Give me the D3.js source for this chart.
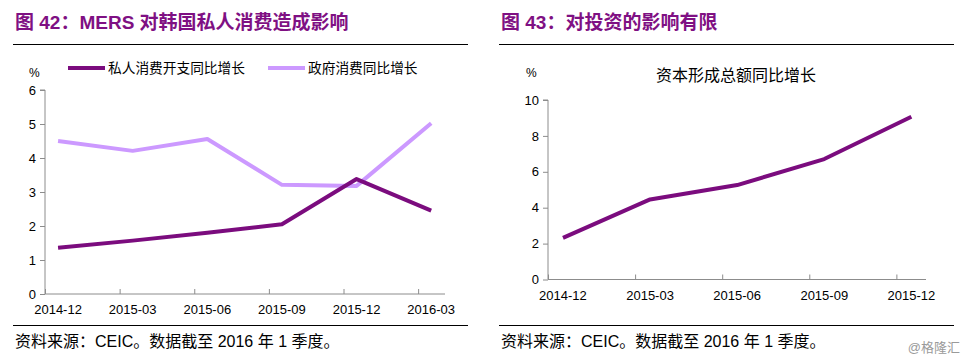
<!DOCTYPE html>
<html><head><meta charset="utf-8">
<script src="https://cdn.jsdelivr.net/npm/d3@7"></script>
<style>body{margin:0;background:#fff}svg{display:block}</style>
</head><body>
<svg id="c" width="972" height="360"></svg>
<script>
const leftCats = ["2014-12","2015-03","2015-06","2015-09","2015-12","2016-03"];
const privateCons = [1.36,1.57,1.80,2.05,3.38,2.45];
const govCons = [4.50,4.21,4.56,3.21,3.18,5.02];
const leftYTicks = [0,1,2,3,4,5,6];

const rightCats = ["2014-12","2015-03","2015-06","2015-09","2015-12"];
const capForm = [2.32,4.46,5.26,6.71,9.07];
const rightYTicks = [0,2,4,6,8,10];

const DARK = "#7B0C7E", LIGHT = "#CC99FF", AX = "#8c8c8c", TITLE = "#7F1083";
const svg = d3.select("#c");
const latin = "'Liberation Sans', Arial, sans-serif";
const cjk = "'Liberation Sans','Noto Sans CJK SC', sans-serif";

function header(x0, x1, title) {
  svg.append("text").attr("x", x0 + 2).attr("y", 29).attr("fill", TITLE)
    .attr("font-family", "'Liberation Sans','Noto Sans CJK SC',sans-serif")
    .attr("font-weight", "bold").attr("font-size", 19).text(title);
  svg.append("line").attr("x1", x0).attr("x2", x1).attr("y1", 44.5).attr("y2", 44.5)
    .attr("stroke", "#000").attr("stroke-width", 1);
  svg.append("line").attr("x1", x0).attr("x2", x1).attr("y1", 325.5).attr("y2", 325.5)
    .attr("stroke", "#000").attr("stroke-width", 1);
  svg.append("text").attr("x", x0 + 2).attr("y", 347).attr("fill", "#000")
    .attr("font-family", cjk).attr("font-size", 16).text("资料来源：CEIC。数据截至 2016 年 1 季度。");
}

function chart(o) {
  const g = svg.append("g");
  const x = d3.scaleLinear().domain([0, o.xMax]).range([o.x0, o.x1]);
  const y = d3.scaleLinear().domain([0, o.yMax]).range([o.y0, o.y1]);
  // y axis
  const ya = g.append("g").attr("transform", `translate(${o.x0},0)`)
    .call(d3.axisLeft(y).tickValues(o.yTicks).tickFormat(d3.format("d")).tickSize(5).tickPadding(4));
  ya.select(".domain").attr("stroke", AX).attr("d", `M-5,${o.y1}H0V${o.y0}`);
  ya.selectAll(".tick line").attr("stroke", AX);
  ya.selectAll("text").attr("font-family", latin).attr("font-size", 13).attr("fill", "#000");
  // x axis
  const xa = g.append("g").attr("transform", `translate(0,${o.y0})`)
    .call(d3.axisBottom(x).tickValues(d3.range(o.cats.length)).tickSize(-5).tickFormat(""));
  xa.select(".domain").attr("stroke", AX).attr("d", `M${o.x0},0H${o.x1}`);
  xa.selectAll(".tick line").attr("stroke", AX);
  g.selectAll(".xl").data(o.cats).enter().append("text")
    .attr("x", (d, i) => x(i + o.off)).attr("y", o.y0 + 20)
    .attr("text-anchor", "middle").attr("font-family", latin).attr("font-size", 13)
    .text(d => d);
  // lines
  const line = d3.line().x((d, i) => x(i + o.off)).y(d => y(d));
  o.series.forEach(s => {
    g.append("path").datum(s.values).attr("d", line).attr("fill", "none")
      .attr("stroke", s.color).attr("stroke-width", 4).attr("stroke-linejoin", "round");
  });
}

header(13, 468, "图 42：MERS 对韩国私人消费造成影响");
header(499, 954, "图 43：对投资的影响有限");

chart({x0: 45, x1: 445, xMax: 5.36, off: 0.175, y0: 294, y1: 90, yMax: 6, yTicks: leftYTicks,
  cats: leftCats, series: [{values: govCons, color: LIGHT}, {values: privateCons, color: DARK}]});
chart({x0: 548, x1: 926, xMax: 4.34, off: 0.172, y0: 279.5, y1: 100, yMax: 10, yTicks: rightYTicks,
  cats: rightCats, series: [{values: capForm, color: DARK}]});

// left legend
svg.append("text").attr("x", 29).attr("y", 77).attr("font-family", latin).attr("font-size", 12).text("%");
const legend = [{name: "私人消费开支同比增长", color: DARK, x: 68}, {name: "政府消费同比增长", color: LIGHT, x: 268}];
legend.forEach(l => {
  svg.append("line").attr("x1", l.x).attr("x2", l.x + 37).attr("y1", 68).attr("y2", 68)
    .attr("stroke", l.color).attr("stroke-width", 4);
  svg.append("text").attr("x", l.x + 40).attr("y", 73).attr("font-family", cjk).attr("font-size", 13.7).text(l.name);
});
// right title
svg.append("text").attr("x", 526).attr("y", 77).attr("font-family", latin).attr("font-size", 12).text("%");
svg.append("text").attr("x", 736).attr("y", 81).attr("text-anchor", "middle")
  .attr("font-family", cjk).attr("font-size", 16).text("资本形成总额同比增长");
// watermark
svg.append("text").attr("x", 960).attr("y", 352).attr("text-anchor", "end").attr("fill", "#9a9a9a")
  .attr("font-family", cjk).attr("font-size", 13).text("@格隆汇");
</script>
</body></html>
